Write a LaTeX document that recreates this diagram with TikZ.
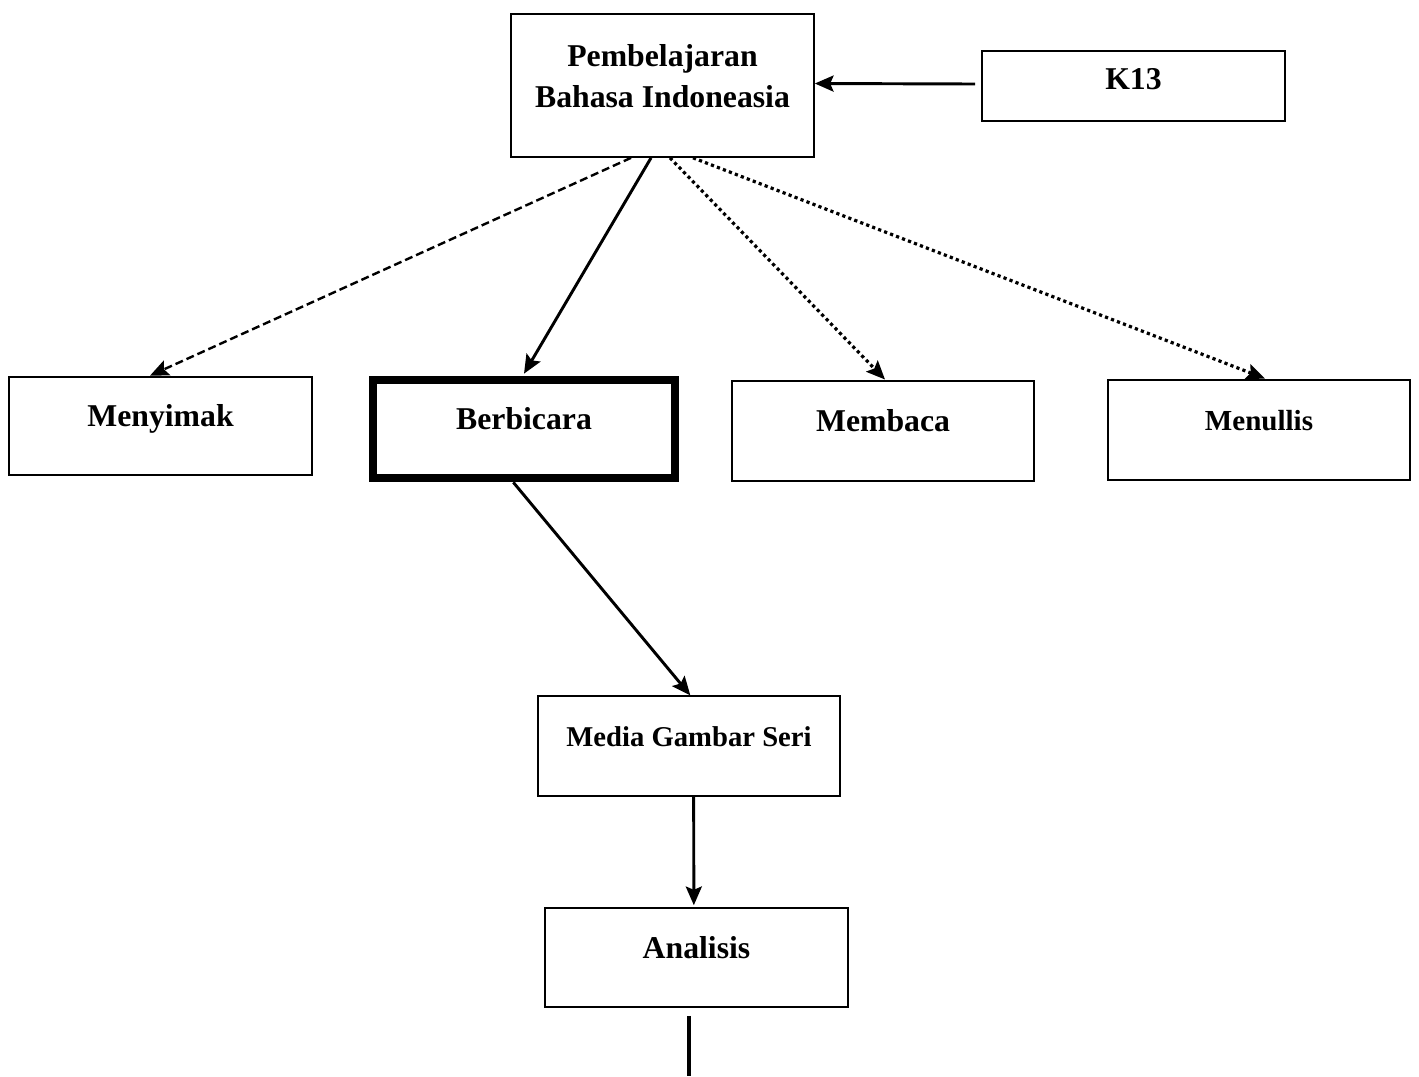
\documentclass[tikz,border=0pt]{standalone}
\usepackage{fontspec}
\setmainfont{Liberation Serif}
\usetikzlibrary{arrows.meta}
\tikzset{
	kotak/.style={draw, line width=1.5pt, line join=miter, minimum width=227pt, minimum height=74pt, inner sep=0pt,
		align=center, font=\fontsize{23.8}{30.75}\selectfont\bfseries, text height=16pt, text depth=15pt},
	panah/.style={line width=2.2pt, -{Stealth[length=14pt,width=12pt,inset=2.5pt]}},
	putus/.style={line width=1.8pt, dash pattern=on 6pt off 3pt, -{Stealth[length=14pt,width=12pt,inset=2.5pt]}},
	titik/.style={line width=2.4pt, dash pattern=on 2.4pt off 2.4pt, -{Stealth[length=14pt,width=12pt,inset=2.5pt]}}
}
\begin{document}
\begin{tikzpicture}[x=0.75pt, y=-0.75pt, line join=round]
	\useasboundingbox (0,0) rectangle (1419,1076);
	% Kotak atas
	\node[kotak, minimum height=107pt, text height=, text depth=] (pbi) at (662.5,85.5) {Pembelajaran\\[0pt]Bahasa Indoneasia\\[-17pt]};
	\node[kotak, minimum height=52.5pt, text depth=11pt] (k13) at (1133.5,86) {K13};
	
	% Empat keterampilan
	\node[kotak] (menyimak) at (160.5,426) {Menyimak};
	\node[kotak, line width=6pt, minimum width=226.5pt] (berbicara) at (524,429) {Berbicara};
	\node[kotak, minimum height=75pt] (membaca) at (883,430.5) {Membaca};
	\node[kotak, minimum height=75pt, font=\fontsize{21.8}{26}\selectfont\bfseries] (menulis) at (1259,429.5) {Menullis};
	
	% Kotak bawah
	\node[kotak, minimum height=74.5pt, font=\fontsize{21.5}{26}\selectfont\bfseries] (media) at (689,746) {Media Gambar Seri};
	\node[kotak] (analisis) at (696.5,957.5) {Analisis};
	\coordinate (bawah) at (688.5,1076);
	
	% Panah
	\draw[panah] ([xshift=-4.5pt,yshift=1.5pt]k13.west) -- ([yshift=1.5pt]pbi.east);
	\draw[putus] ([xshift=-23.6pt]pbi.south) -- ([xshift=-7.9pt]menyimak.north);
	\draw[panah] ([xshift=-8.6pt]pbi.south) -- ([yshift=1.5pt]berbicara.north);
	\draw[titik] ([xshift=5.6pt]pbi.south) -- ([xshift=1.5pt]membaca.north);
	\draw[titik] ([xshift=22.9pt]pbi.south) -- ([xshift=4.5pt]menulis.north);
	\draw[panah] ([xshift=-8pt]berbicara.south) -- ([xshift=1pt]media.north);
	\draw[panah] ([xshift=3.5pt]media.south) -- ([xshift=-2pt,yshift=1.5pt]analisis.north);
	\draw[line width=3pt] ([yshift=-6pt]analisis.south -| bawah) -- (bawah);
\end{tikzpicture}
\end{document}
